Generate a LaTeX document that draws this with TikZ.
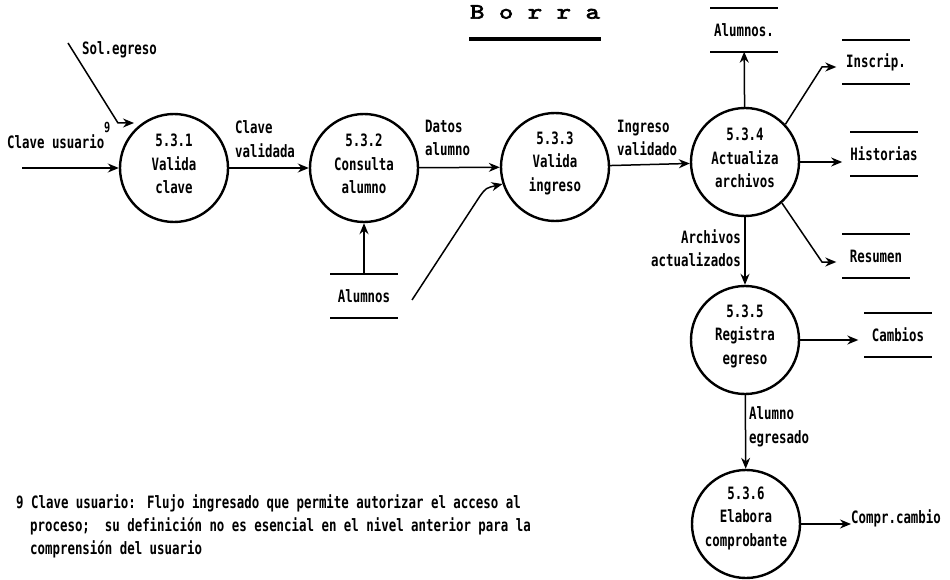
\documentclass[tikz,border=0pt]{standalone}
\usepackage{fontspec}
\setmainfont{DejaVu Sans Mono}[FakeStretch=0.73]
\newfontfamily\titlefont{lmmono10-regular.otf}[FakeBold=3, FakeStretch=1.25]
\usetikzlibrary{arrows.meta}

\newcommand\labfont{\fontsize{17}{23.5}\selectfont\bfseries}
\newcommand\notefont{\fontsize{17}{23}\selectfont\bfseries}

\tikzset{
  proc/.style={circle, draw, line width=2.4pt, minimum size=108pt, inner sep=0pt},
  ptext/.style={align=center, inner sep=0pt, font=\labfont},
  lbl/.style={align=left, inner sep=0pt, font=\labfont},
  note/.style={anchor=west, inner sep=0pt, font=\notefont},
  flow/.style={-{Stealth[length=11pt,width=9pt]}, line width=1.5pt},
  store/.style={inner sep=0pt, minimum width=67pt, minimum height=43pt,
    font=\labfont,
    append after command={
      (\tikzlastnode.north west) edge[line width=2.2pt] (\tikzlastnode.north east)
      (\tikzlastnode.south west) edge[line width=2.2pt] (\tikzlastnode.south east)}},
}

\begin{document}
\begin{tikzpicture}[x=1pt, y=-1pt]
\useasboundingbox (0,0) rectangle (950,580);

% title
\node[inner sep=0pt, font=\fontsize{22}{22}\selectfont\titlefont] (title) at (535,12) {B o r r a};
\coordinate (ul0) at (469,39);
\coordinate (ul1) at (601,39);
\draw[line width=4.5pt] (ul0) -- (ul1);

% processes
\node[proc] (p1) at (174,168) {};
\node[ptext] (p1t) at (174,164) {5.3.1\\Valida\\clave};
\node[proc] (p2) at (364,168) {};
\node[ptext] (p2t) at (364,164) {5.3.2\\Consulta\\alumno};
\node[proc] (p3) at (555,167) {};
\node[ptext] (p3t) at (555,163) {5.3.3\\Valida\\ingreso};
\node[proc] (p4) at (745,162) {};
\node[ptext] (p4t) at (745,158) {5.3.4\\Actualiza\\archivos};
\node[proc] (p5) at (745,340) {};
\node[ptext] (p5t) at (745,336) {5.3.5\\Registra\\egreso};
\node[proc] (p6) at (746,524) {};
\node[ptext] (p6t) at (746,518) {5.3.6\\Elabora\\comprobante};

% data stores
\node[store] (s1) at (364,296) {Alumnos};
\node[store] (s2) at (744,30) {Alumnos.};
\node[store] (s3) at (876,62) {Inscrip.};
\node[store] (s4) at (884,154) {Historias};
\node[store] (s5) at (876,256) {Resumen};
\node[store] (s6) at (898,335) {Cambios};

% external flows and their labels
\coordinate (cu) at (22,168);
\draw[flow] (cu) -- (p1.west);
\node[lbl, anchor=west] (cul) at (7,142) {Clave usuario};
\node[lbl, anchor=west, font=\fontsize{14}{14}\selectfont\bfseries] (nine) at (104,127) {9};

\coordinate (se0) at (68,43);
\coordinate (se1) at (118,123);
\coordinate (se2) at (134,123);
\draw[flow] (se0) -- (se1) -- (se2);
\node[lbl, anchor=west] (sel) at (82,50) {Sol.egreso};

% flows between processes
\draw[flow] (p1) -- (p2);
\node[lbl, anchor=west] (f12) at (235,139) {Clave\\validada};
\draw[flow] (p2) -- (p3);
\node[lbl, anchor=west] (f23) at (425,138) {Datos\\alumno};
\draw[flow] (p3) -- (p4);
\node[lbl, anchor=west] (f34) at (617,138) {Ingreso\\validado};

\draw[flow] (s1) -- (p2);
\coordinate (a1) at (412,300);
\coordinate (a2) at (480,196);
\draw[flow] (a1) -- (a2) .. controls (486,188) .. (p3.198);

\draw[flow] (p4) -- (s2);
\coordinate (b1) at (822,67);
\draw[flow, shorten >=6pt] (p4.43) -- (b1) -- (b1 -| s3.west);
\draw[flow, shorten >=8pt] (p4.east) -- (p4.east -| s4.west);
\coordinate (c1) at (822,262);
\draw[flow, shorten >=6pt] (p4.-48) -- (c1) -- (c1 -| s5.west);

\draw[flow] (p4) -- (p5);
\node[lbl, anchor=east, align=right] (f45) at (741,248) {Archivos\\actualizados};
\draw[flow, shorten >=6pt] (p5.east) -- (p5.east -| s6.west);
\draw[flow] (p5) -- (p6);
\node[lbl, anchor=west] (f56) at (749,427) {Alumno\\egresado};

\node[lbl, anchor=west] (cc) at (851,518) {Compr.cambio};
\draw[flow] (p6.east) -- (p6.east -| cc.west);

% footnote
\node[note] (note1) at (16,503) {\makebox[131pt][l]{9 Clave usuario:}Flujo ingresado que permite autorizar el acceso al};
\node[note] (note2) at (30,526) {proceso;\ \ su definición no es esencial en el nivel anterior para la};
\node[note] (note3) at (30,549) {comprensión del usuario};
\end{tikzpicture}
\end{document}
